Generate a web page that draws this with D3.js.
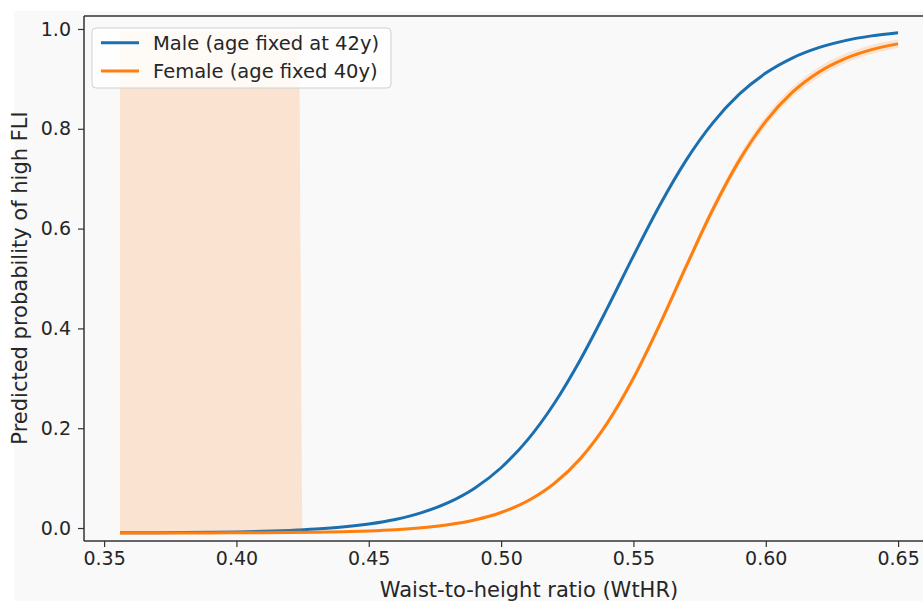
<!DOCTYPE html>
<html>
<head>
<meta charset="utf-8">
<script src="https://cdn.jsdelivr.net/npm/d3@7"></script>
<style>
  body { margin: 0; background: #fff; }
  text { font-family: "DejaVu Sans", sans-serif; fill: #262626; }
</style>
</head>
<body>
<script>
// waist-to-height ratio grid
var xs = [0.356, 0.36, 0.37, 0.38, 0.39, 0.40, 0.41, 0.42, 0.43, 0.44, 0.45, 0.46, 0.47, 0.48, 0.49,
  0.50, 0.51, 0.52, 0.53, 0.54, 0.55, 0.56, 0.57, 0.58, 0.59, 0.60, 0.61, 0.62, 0.63, 0.64, 0.65];

// predicted probability, male (age 42)
var male = [-0.0096, -0.0096, -0.0094, -0.0090, -0.0085, -0.0078, -0.0066, -0.0048, -0.0021, 0.0019, 0.0081,
  0.0172, 0.0309, 0.0509, 0.0799, 0.1208, 0.1766, 0.2491, 0.3379, 0.4391, 0.5453, 0.6474, 0.7378, 0.8119,
  0.8693, 0.9116, 0.9417, 0.9625, 0.9767, 0.9862, 0.9925];

// predicted probability, female (age 40)
var female = [-0.0100, -0.0100, -0.0099, -0.0099, -0.0098, -0.0096, -0.0094, -0.0090, -0.0084, -0.0074, -0.0059,
  -0.0035, 0.0004, 0.0065, 0.0161, 0.0311, 0.0542, 0.0889, 0.1394, 0.2094, 0.3003, 0.4085, 0.5252, 0.6382,
  0.7367, 0.8150, 0.8730, 0.9135, 0.9407, 0.9587, 0.9702];

// female confidence band
var bandX = [0.356, 0.36, 0.37, 0.38, 0.39, 0.40, 0.41, 0.42, 0.4236, 0.425, 0.43, 0.44, 0.45, 0.46, 0.47, 0.48,
  0.49, 0.50, 0.51, 0.52, 0.53, 0.54, 0.55, 0.56, 0.57, 0.58, 0.59, 0.60, 0.61, 0.62, 0.63, 0.64, 0.65];
var bandLo = [-0.0110, -0.0110, -0.0109, -0.0109, -0.0108, -0.0106, -0.0104, -0.0100, -0.0099, -0.0099, -0.0094,
  -0.0088, -0.0075, -0.0053, -0.0016, 0.0043, 0.0137, 0.0281, 0.0502, 0.0839, 0.1334, 0.2024, 0.2923, 0.4000,
  0.5162, 0.6287, 0.7267, 0.8050, 0.8630, 0.9035, 0.9312, 0.9497, 0.9617];
var bandHi = [0.995, 0.995, 0.995, 0.995, 0.995, 0.995, 0.995, 0.995, 0.995, -0.0075, -0.0070,
  -0.0060, -0.0043, -0.0017, 0.0024, 0.0087, 0.0185, 0.0341, 0.0582, 0.0939, 0.1454, 0.2164, 0.3083, 0.4170,
  0.5342, 0.6477, 0.7467, 0.8250, 0.8830, 0.9235, 0.9502, 0.9677, 0.9787];

var xTicks = [0.35, 0.40, 0.45, 0.50, 0.55, 0.60, 0.65];
var yTicks = [0.0, 0.2, 0.4, 0.6, 0.8, 1.0];
var seriesNames = ["Male (age fixed at 42y)", "Female (age fixed 40y)"];
var colors = ["#1a6fb0", "#ff7f0e"];

var W = 923, H = 601;
var mLeft = 84, mTop = 16, mRight = 937, mBottom = 541;

var svg = d3.select("body").append("svg")
  .attr("width", W).attr("height", H);

// figure background
svg.append("rect").attr("x", 14).attr("y", 11).attr("width", W - 14).attr("height", H - 11)
  .attr("fill", "#f9f9f9");

var x = d3.scaleLinear().domain([0.3424, 0.6647]).range([mLeft, mRight]);
var y = d3.scaleLinear().domain([-0.026, 1.026]).range([mBottom, mTop]);

var line = d3.line().curve(d3.curveMonotoneX)
  .x(function(d) { return x(d[0]); })
  .y(function(d) { return y(d[1]); });

var area = d3.area().curve(d3.curveMonotoneX)
  .x(function(d) { return x(d[0]); })
  .y0(function(d) { return y(d[1]); })
  .y1(function(d) { return y(d[2]); });

var plot = svg.append("g");

plot.append("path")
  .datum(xs.map(function(v, i) { return [v, male[i]]; }))
  .attr("d", line).attr("fill", "none")
  .attr("stroke", colors[0]).attr("stroke-width", 3);

plot.append("path")
  .datum(xs.map(function(v, i) { return [v, female[i]]; }))
  .attr("d", line).attr("fill", "none")
  .attr("stroke", colors[1]).attr("stroke-width", 3);

plot.append("path")
  .datum(bandX.map(function(v, i) { return [v, bandLo[i], bandHi[i]]; }))
  .attr("d", area).attr("fill", colors[1]).attr("fill-opacity", 0.17);

// axes
var xAxis = svg.append("g").attr("transform", "translate(0," + mBottom + ")")
  .call(d3.axisBottom(x).tickValues(xTicks).tickFormat(d3.format(".2f")).tickSize(6).tickPadding(5));
var yAxis = svg.append("g").attr("transform", "translate(" + mLeft + ",0)")
  .call(d3.axisLeft(y).tickValues(yTicks).tickFormat(d3.format(".1f")).tickSize(6).tickPadding(7));

[xAxis, yAxis].forEach(function(a) {
  a.select(".domain").remove();
  a.selectAll(".tick line").attr("stroke", "#333").attr("stroke-width", 1.2);
  a.selectAll(".tick text").attr("font-size", 19).attr("fill", "#262626")
    .attr("font-family", "DejaVu Sans");
});

// spines
svg.append("line").attr("x1", mLeft).attr("x2", mLeft).attr("y1", mTop).attr("y2", mBottom)
  .attr("stroke", "#333").attr("stroke-width", 1.5);
svg.append("line").attr("x1", mLeft).attr("x2", W).attr("y1", mBottom).attr("y2", mBottom)
  .attr("stroke", "#333").attr("stroke-width", 1.5);
svg.append("line").attr("x1", mLeft).attr("x2", W).attr("y1", mTop).attr("y2", mTop)
  .attr("stroke", "#333").attr("stroke-width", 1.5);

// axis titles
svg.append("text").attr("x", 529).attr("y", 597).attr("text-anchor", "middle")
  .attr("font-size", 21).text("Waist-to-height ratio (WtHR)");
svg.append("text").attr("transform", "translate(27,278) rotate(-90)").attr("text-anchor", "middle")
  .attr("font-size", 21).text("Predicted probability of high FLI");

// legend
var lg = svg.append("g").attr("transform", "translate(92,28)");
lg.append("rect").attr("width", 299).attr("height", 60).attr("rx", 4)
  .attr("fill", "#fff").attr("fill-opacity", 0.8).attr("stroke", "#d0d0d0").attr("stroke-width", 1);
seriesNames.forEach(function(name, i) {
  var yy = 14.7 + i * 28.3;
  lg.append("line").attr("x1", 9).attr("x2", 47).attr("y1", yy).attr("y2", yy)
    .attr("stroke", colors[i]).attr("stroke-width", 3);
  lg.append("text").attr("x", 61).attr("y", yy + 7).attr("font-size", 19.5).text(name);
});
</script>
</body>
</html>
